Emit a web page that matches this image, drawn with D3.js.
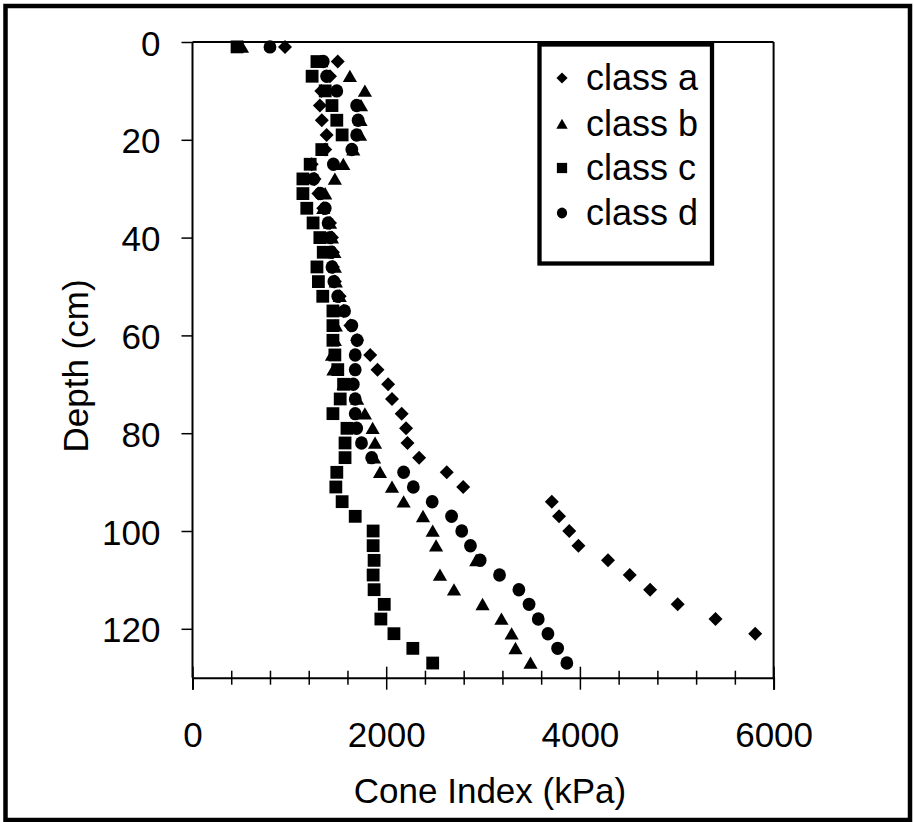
<!DOCTYPE html>
<html><head><meta charset="utf-8">
<script src="https://cdn.jsdelivr.net/npm/d3@7"></script>
<style>
body{margin:0;background:#fff}
svg{display:block}
text{font-family:"Liberation Sans",Arial,sans-serif;fill:#000}
</style>
</head><body>
<svg id="chart" width="915" height="822"></svg>
<script>
// ---- data (Cone Index in kPa, Depth in cm) ----
const depths = [1,4,7,10,13,16,19,22,25,28,31,34,37,40,43,46,49,52,55,58,61,64,67,70,73,76,79,82,85,88,91,94,97,100,103,106,109,112,115,118,121,124,127];
const depthsA = [1,4,7,10,13,16,19,22,25,28,31,34,37,40,43,46,49,52,55,58,61,64,67,70,73,76,79,82,85,88,91,94,97,100,103,106,109,112,115,118,121];
const classA = [955,1500,1420,1330,1315,1335,1385,1370,1230,1260,1300,1350,1420,1440,1450,1450,1470,1520,1560,1630,1700,1835,1910,2020,2060,2160,2205,2220,2340,2625,2795,3710,3785,3890,3985,4290,4515,4725,5010,5400,5810];
const classB = [511,1330,1625,1780,1740,1735,1730,1660,1557,1470,1370,1350,1420,1440,1465,1470,1480,1520,1500,1480,1470,1440,1455,1560,1700,1780,1860,1885,1875,1936,2060,2180,2380,2480,2515,2930,2555,2700,2995,3190,3295,3335,3490];
const classC = [460,1285,1235,1370,1440,1490,1545,1335,1215,1140,1140,1180,1245,1315,1350,1285,1300,1345,1450,1450,1450,1470,1500,1560,1525,1450,1595,1575,1575,1490,1480,1545,1680,1865,1865,1875,1865,1875,1980,1945,2080,2275,2480];
const classD = [800,1350,1385,1490,1695,1710,1695,1645,1455,1250,1320,1370,1400,1420,1430,1440,1460,1500,1570,1645,1700,1680,1680,1660,1680,1680,1695,1745,1850,2180,2280,2475,2675,2780,2870,2970,3170,3370,3475,3570,3670,3770,3865];
const seriesNames = ["class a","class b","class c","class d"];
const xTicks = [0,2000,4000,6000];
const xMinorTicks = [400,800,1200,1600,2400,2800,3200,3600,4400,4800,5200,5600];
const yTicks = [0,20,40,60,80,100,120];
const xTitle = "Cone Index (kPa)";
const yTitle = "Depth (cm)";

const svg = d3.select("#chart");
const x = d3.scaleLinear().domain([0,6000]).range([192.5,773.6]);
const y = d3.scaleLinear().domain([0,130]).range([42,677.7]);

// outer frame
svg.append("rect").attr("x",5.5).attr("y",6).attr("width",904.5).attr("height",814)
  .attr("fill","#fff").attr("stroke","#000").attr("stroke-width",4.5);

// plot frame (top + right)
svg.append("line").attr("x1",x(0)).attr("x2",x(6000)).attr("y1",y(0)).attr("y2",y(0)).attr("stroke","#000").attr("stroke-width",2);
svg.append("line").attr("x1",x(6000)).attr("x2",x(6000)).attr("y1",y(0)).attr("y2",y(130)).attr("stroke","#000").attr("stroke-width",2);

// x axis
const gx = svg.append("g").attr("transform",`translate(0,${y(130)})`)
  .call(d3.axisBottom(x).tickValues(xTicks).tickSize(12).tickPadding(0).tickFormat(d3.format("d")));
gx.select(".domain").attr("stroke","#000").attr("stroke-width",2);
gx.selectAll(".tick line").attr("y1",-11).attr("y2",12).attr("stroke","#000").attr("stroke-width",1.5);
gx.selectAll(".tick text").attr("y",69).attr("dy",null).attr("font-size",35).attr("font-family","Liberation Sans, Arial, sans-serif");
const gxm = svg.append("g").attr("transform",`translate(0,${y(130)})`)
  .call(d3.axisBottom(x).tickValues(xMinorTicks).tickSize(7).tickFormat(""));
gxm.select(".domain").remove();
gxm.selectAll(".tick line").attr("y1",-7).attr("y2",7).attr("stroke","#000").attr("stroke-width",1.5);

// y axis
const gy = svg.append("g").attr("transform",`translate(${x(0)},0)`)
  .call(d3.axisLeft(y).tickValues(yTicks).tickSize(11).tickPadding(0).tickFormat(d3.format("d")));
gy.select(".domain").attr("stroke","#000").attr("stroke-width",2).attr("d",`M0,${y(0)}V${y(130)}`);
gy.selectAll(".tick line").attr("stroke","#000").attr("stroke-width",1.5);
gy.selectAll(".tick text").attr("x",-32).attr("dy",null).attr("y",13).attr("font-size",35).attr("font-family","Liberation Sans, Arial, sans-serif");

// axis titles
svg.append("text").attr("x",490).attr("y",803).attr("text-anchor","middle").attr("font-size",35).text(xTitle);
svg.append("text").attr("transform","translate(88,366) rotate(-90)").attr("text-anchor","middle").attr("font-size",35).text(yTitle);

// marker shapes
function markerPath(kind, s){
  if(kind===0){ return `M0,${-s*7}L${s*7},0L0,${s*7}L${-s*7},0Z`; }
  if(kind===1){ return `M0,${-s*6.5}L${s*7.1},${s*5.8}L${-s*7.1},${s*5.8}Z`; }
  if(kind===2){ const h=s*6.4; return `M${-h},${-h}H${h}V${h}H${-h}Z`; }
  const r=s*6.4; return `M${-r},0A${r},${r*1.05} 0 1,0 ${r},0A${r},${r*1.05} 0 1,0 ${-r},0Z`;
}

const allSeries = [
  {vals: classA, deps: depthsA},
  {vals: classB, deps: depths},
  {vals: classC, deps: depths},
  {vals: classD, deps: depths}
];
const plot = svg.append("g");
allSeries.forEach((s,k)=>{
  plot.append("g").selectAll("path").data(s.vals.map((v,i)=>[v,s.deps[i]])).join("path")
    .attr("transform",d=>`translate(${x(d[0])},${y(d[1])})`)
    .attr("d",markerPath(k,1)).attr("fill","#000");
});

// legend
const lg = svg.append("g");
lg.append("rect").attr("x",539.5).attr("y",44.5).attr("width",172.5).attr("height",219)
  .attr("fill","#fff").attr("stroke","#000").attr("stroke-width",4.3);
const rowY = [78,124,168,213];
seriesNames.forEach((n,k)=>{
  lg.append("path").attr("transform",`translate(562,${rowY[k]})`).attr("d",markerPath(k,0.8)).attr("fill","#000");
  lg.append("text").attr("x",586).attr("y",rowY[k]+12).attr("font-size",36).text(n);
});
</script>
</body></html>
